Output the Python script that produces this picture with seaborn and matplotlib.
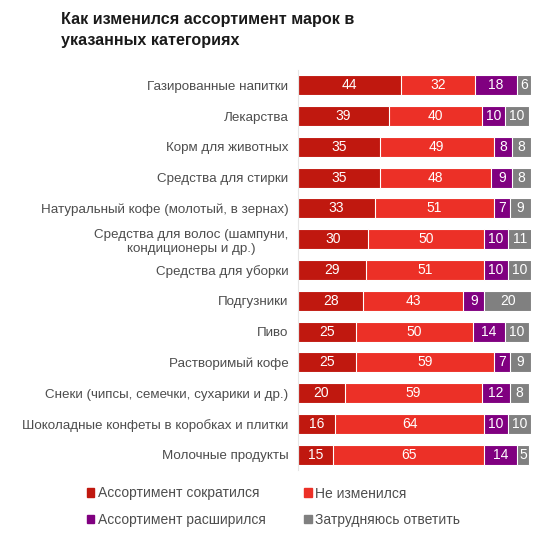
import matplotlib
matplotlib.use("Agg")
import matplotlib.pyplot as plt
import matplotlib.patches as mpatches
import numpy as np
import pandas as pd
import seaborn as sns

categories = [
    "Газированные напитки",
    "Лекарства",
    "Корм для животных",
    "Средства для стирки",
    "Натуральный кофе (молотый, в зернах)",
    "Средства для волос (шампуни,\nкондиционеры и др.)",
    "Средства для уборки",
    "Подгузники",
    "Пиво",
    "Растворимый кофе",
    "Снеки (чипсы, семечки, сухарики и др.)",
    "Шоколадные конфеты в коробках и плитки",
    "Молочные продукты",
]
decreased = [44, 39, 35, 35, 33, 30, 29, 28, 25, 25, 20, 16, 15]
unchanged = [32, 40, 49, 48, 51, 50, 51, 43, 50, 59, 59, 64, 65]
expanded = [18, 10, 8, 9, 7, 10, 10, 9, 14, 7, 12, 10, 14]
unsure = [6, 10, 8, 8, 9, 11, 10, 20, 10, 9, 8, 10, 5]

series_names = ["Ассортимент сократился", "Не изменился",
                "Ассортимент расширился", "Затрудняюсь ответить"]
series_values = [decreased, unchanged, expanded, unsure]
colors = ["#C0180F", "#EC3027", "#800080", "#808080"]
title = "Как изменился ассортимент марок в\nуказанных категориях"

sns.set_theme(style="white")
plt.rcParams["font.family"] = ["Liberation Sans", "DejaVu Sans"]

fig = plt.figure(figsize=(5.55, 5.33), dpi=100)
ax = fig.add_axes([298 / 555, 1 - 470 / 533, 233 / 555, 400 / 533])

vals = np.array(series_values, dtype=float)
cum = np.cumsum(vals, axis=0)

# draw cumulative totals from the longest to shortest so segments stack
for i in range(len(series_names) - 1, -1, -1):
    df = pd.DataFrame({"cat": categories, "v": cum[i]})
    sns.barplot(data=df, x="v", y="cat", orient="h", color=colors[i],
                saturation=1, width=0.65, edgecolor="white", linewidth=0.8,
                ax=ax)

for i in range(len(series_names)):
    for j in range(len(categories)):
        left = cum[i][j] - vals[i][j]
        ax.text(left + vals[i][j] / 2, j, f"{int(vals[i][j])}",
                ha="center", va="center", color="white", fontsize=10)

ax.set_xlim(0, 100)
ax.set_ylim(len(categories) - 0.5, -0.5)
ax.set_xlabel("")
ax.set_ylabel("")
ax.set_xticks([])
for s in ["top", "right", "bottom"]:
    ax.spines[s].set_visible(False)
ax.spines["left"].set_color("#E6E6E6")
ax.spines["left"].set_linewidth(0.8)
ax.tick_params(axis="y", length=0, pad=7, labelsize=9.6, labelcolor="#4D4D4D")
for lab in ax.get_yticklabels():
    lab.set_multialignment("center")
    lab.set_linespacing(1.25)

fig.text(61 / 555, 1 - 12 / 533, title, ha="left", va="top",
         fontsize=11.6, fontweight="bold", color="#1A1A1A", linespacing=1.5)

order = [0, 2, 1, 3]
handles = [mpatches.Patch(color=colors[k], label=series_names[k]) for k in order]
fig.legend(handles=handles, ncol=2, loc="upper left",
           bbox_to_anchor=(74 / 555, 1 - 474 / 533), frameon=False,
           fontsize=10, handlelength=0.55, handleheight=0.55,
           handletextpad=0.25, columnspacing=2.8, labelspacing=0.9,
           labelcolor="#4D4D4D")

fig.savefig("out.png", dpi=100)
